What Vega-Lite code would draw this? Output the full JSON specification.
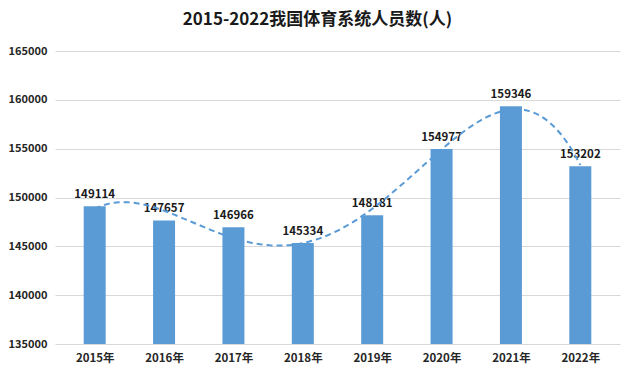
{
  "$schema": "https://vega.github.io/schema/vega-lite/v6.json",
  "width": 565,
  "height": 293,
  "autosize": {"type": "none"},
  "padding": {"left": 55, "top": 51, "right": 15, "bottom": 33},
  "background": "white",
  "title": {
    "text": "2015-2022我国体育系统人员数(人)",
    "font": "Noto Sans CJK SC",
    "fontSize": 17,
    "fontWeight": "bold",
    "color": "#1a1a1a",
    "anchor": "middle",
    "dx": -20,
    "offset": 16
  },
  "data": {
    "values": [
      {"year": 2015, "value": 149114},
      {"year": 2016, "value": 147657},
      {"year": 2017, "value": 146966},
      {"year": 2018, "value": 145334},
      {"year": 2019, "value": 148181},
      {"year": 2020, "value": 154977},
      {"year": 2021, "value": 159346},
      {"year": 2022, "value": 153202}
    ]
  },
  "config": {
    "view": {"stroke": null},
    "axis": {"labelFont": "Noto Sans CJK SC", "labelFontWeight": "bold", "labelColor": "#262626"}
  },
  "layer": [
    {
      "mark": {"type": "bar", "color": "#5B9BD5", "size": 22},
      "encoding": {
        "x": {
          "field": "year",
          "type": "quantitative",
          "scale": {"domain": [2014.5, 2022.5], "nice": false, "zero": false},
          "axis": {
            "title": null,
            "values": [2015, 2016, 2017, 2018, 2019, 2020, 2021, 2022],
            "labelExpr": "datum.value + '年'",
            "grid": false,
            "ticks": false,
            "domain": false,
            "labelPadding": 8,
            "labelFontSize": 11.5
          }
        },
        "y": {
          "field": "value",
          "type": "quantitative",
          "scale": {"domain": [135000, 165000], "nice": false, "zero": false},
          "axis": {
            "title": null,
            "values": [135000, 140000, 145000, 150000, 155000, 160000, 165000],
            "format": "d",
            "ticks": false,
            "domain": false,
            "gridColor": "#d9d9d9",
            "labelPadding": 8,
            "labelFontSize": 11
          }
        },
        "y2": {"datum": 135000}
      }
    },
    {
      "mark": {"type": "text", "baseline": "bottom", "dy": -6, "font": "Noto Sans CJK SC", "fontWeight": "bold", "fontSize": 11.5, "color": "#1a1a1a"},
      "encoding": {
        "x": {"field": "year", "type": "quantitative"},
        "y": {"field": "value", "type": "quantitative"},
        "text": {"field": "value", "type": "quantitative", "format": "d"}
      }
    },
    {
      "transform": [
        {"regression": "value", "on": "year", "method": "poly", "order": 4, "extent": [2015, 2022]}
      ],
      "mark": {"type": "line", "color": "#5B9BD5", "strokeWidth": 2, "strokeDash": [6, 4]},
      "encoding": {
        "x": {"field": "year", "type": "quantitative"},
        "y": {"field": "value", "type": "quantitative"}
      }
    }
  ]
}
